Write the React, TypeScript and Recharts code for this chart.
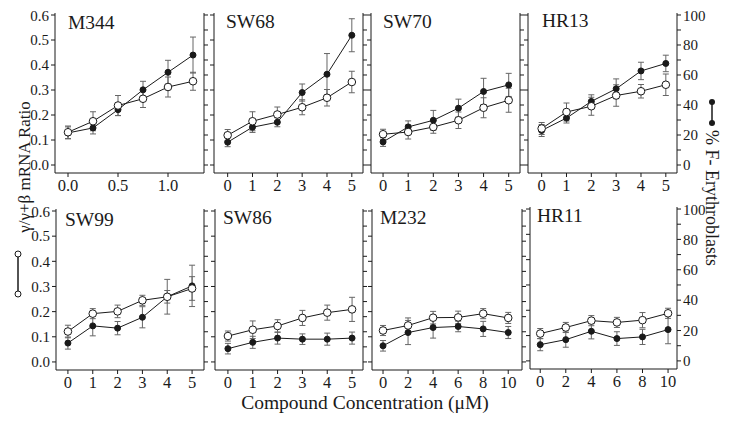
import { ErrorBar, Line, LineChart, XAxis, YAxis } from "recharts"

const FONT = "'Liberation Serif', 'Times New Roman', serif"
const INK = "#1a1a1a"

// concentrations
const xM344 = [0, 0.25, 0.5, 0.75, 1.0, 1.25]
const xFive = [0, 1, 2, 3, 4, 5]
const xTen = [0, 2, 4, 6, 8, 10]

// gamma/(gamma+beta) mRNA ratio (open circles, left axis) and % F erythroblasts (filled, right axis)
const m344Ratio = [0.131, 0.175, 0.238, 0.265, 0.312, 0.335]
const m344RatioErr = [0.025, 0.038, 0.04, 0.035, 0.04, 0.036]
const m344PctF = [21.4, 24.7, 36.9, 50.1, 61.8, 73.3]
const m344PctFErr = [4, 4, 4, 5.7, 8, 12]

const sw68Ratio = [0.119, 0.175, 0.202, 0.231, 0.269, 0.332]
const sw68RatioErr = [0.023, 0.038, 0.03, 0.03, 0.033, 0.043]
const sw68PctF = [15.2, 25.2, 28.5, 48.3, 60.5, 86.5]
const sw68PctFErr = [3, 3.5, 3, 5.7, 13.8, 11]

const sw70Ratio = [0.123, 0.132, 0.152, 0.179, 0.229, 0.259]
const sw70RatioErr = [0.02, 0.028, 0.025, 0.033, 0.04, 0.048]
const sw70PctF = [15.4, 25.4, 29.8, 37.9, 49, 53.4]
const sw70PctFErr = [3, 4, 6.6, 6, 8.8, 7.7]

const hr13Ratio = [0.146, 0.212, 0.235, 0.278, 0.295, 0.321]
const hr13RatioErr = [0.024, 0.036, 0.036, 0.043, 0.027, 0.043]
const hr13PctF = [23, 31.3, 42.4, 50.8, 62.7, 67.7]
const hr13PctFErr = [4, 3.3, 4.4, 6.6, 5.8, 5.5]

const sw99Ratio = [0.121, 0.192, 0.201, 0.245, 0.259, 0.292]
const sw99RatioErr = [0.025, 0.02, 0.025, 0.02, 0.025, 0.047]
const sw99PctF = [12.5, 23.9, 22.4, 29.6, 43.2, 50.4]
const sw99PctFErr = [4, 6.6, 4.4, 7, 11.5, 13.7]

const sw86Ratio = [0.103, 0.128, 0.143, 0.175, 0.196, 0.209]
const sw86RatioErr = [0.02, 0.035, 0.025, 0.03, 0.03, 0.048]
const sw86PctF = [8.8, 13, 15.8, 15.1, 15.1, 15.8]
const sw86PctFErr = [3.5, 4, 4, 3.5, 4, 4]

const m232Ratio = [0.125, 0.145, 0.176, 0.177, 0.192, 0.175]
const m232RatioErr = [0.02, 0.03, 0.025, 0.025, 0.02, 0.022]
const m232PctF = [10.7, 19.5, 22.8, 23.5, 21.9, 19.5]
const m232PctFErr = [3.5, 8, 7, 3.5, 5, 4]

const hr11Ratio = [0.108, 0.132, 0.159, 0.152, 0.161, 0.188]
const hr11RatioErr = [0.02, 0.02, 0.02, 0.02, 0.03, 0.02]
const hr11PctF = [10.7, 14, 19.5, 14.7, 15.8, 20.6]
const hr11PctFErr = [4, 5, 5, 4.5, 5, 9.3]

const ratioTicks = [0, 0.1, 0.2, 0.3, 0.4, 0.5, 0.6]
const pctTicks = [0, 10, 20, 30, 40, 50, 60, 70, 80, 90, 100]

const rows = (xs: number[], r: number[], re: number[], f: number[], fe: number[]) =>
  xs.map((x, i) => ({ x, r: r[i], re: re[i], f: f[i], fe: fe[i] }))

const LW = 40
const RW = 40
const MT = 6
const XH = 30

type PanelProps = {
  name: string
  left: number
  top: number
  width: number
  height: number
  xDomain: [number, number]
  xTicks: number[]
  xFmt: (v: number) => string
  data: { x: number; r: number; re: number; f: number; fe: number }[]
  showLeft?: boolean
  showRight?: boolean
  titleDx: number
  titleY: number
}

const yTickStyle = { fill: INK, fontSize: 15, fontFamily: FONT }
const xTickStyle = { fill: INK, fontSize: 16.5, fontFamily: FONT }

function Panel(p: PanelProps) {
  return (
    <div style={{ position: "absolute", left: p.left - LW, top: p.top - MT }}>
      <LineChart
        width={LW + p.width + RW}
        height={MT + p.height + XH}
        data={p.data}
        margin={{ top: MT, right: 0, bottom: 0, left: 0 }}
      >
        <XAxis
          dataKey="x"
          type="number"
          domain={p.xDomain}
          ticks={p.xTicks}
          tickFormatter={p.xFmt}
          height={XH}
          stroke={INK}
          tickSize={4}
          tick={xTickStyle}
          allowDataOverflow
        />
        <YAxis
          yAxisId="l"
          orientation="left"
          type="number"
          domain={[-0.032, 0.608]}
          ticks={ratioTicks}
          tickFormatter={(v: number) => (p.showLeft ? v.toFixed(1) : "")}
          width={LW}
          stroke={INK}
          tickSize={4}
          tick={yTickStyle}
          allowDataOverflow
        />
        <YAxis
          yAxisId="r"
          orientation="right"
          type="number"
          domain={[-5.333, 101.333]}
          ticks={pctTicks}
          tickFormatter={(v: number) => (p.showRight && v % 20 === 0 ? String(v) : "")}
          width={RW}
          stroke={INK}
          tickSize={4}
          tick={yTickStyle}
          allowDataOverflow
        />
        <Line
          yAxisId="r"
          dataKey="f"
          stroke={INK}
          strokeWidth={1}
          dot={{ r: 3, fill: INK, stroke: INK, strokeWidth: 1 }}
          isAnimationActive={false}
        >
          <ErrorBar dataKey="fe" direction="y" width={3} stroke="#666" strokeWidth={1} />
        </Line>
        <Line
          yAxisId="l"
          dataKey="r"
          stroke={INK}
          strokeWidth={1}
          dot={{ r: 3.8, fill: "#fff", stroke: INK, strokeWidth: 1 }}
          isAnimationActive={false}
        >
          <ErrorBar dataKey="re" direction="y" width={3} stroke="#666" strokeWidth={1} />
        </Line>
      </LineChart>
    </div>
  )
}

const fmtInt = (v: number) => String(v)
const fmtDec = (v: number) => v.toFixed(1)

const panels: PanelProps[] = [
  { name: "M344", left: 55, top: 13, width: 149, height: 160, xDomain: [-0.13, 1.36], xTicks: [0, 0.5, 1.0], xFmt: fmtDec, data: rows(xM344, m344Ratio, m344RatioErr, m344PctF, m344PctFErr), showLeft: true, titleDx: 13, titleY: 29 },
  { name: "SW68", left: 214, top: 13, width: 149, height: 160, xDomain: [-0.55, 5.45], xTicks: xFive, xFmt: fmtInt, data: rows(xFive, sw68Ratio, sw68RatioErr, sw68PctF, sw68PctFErr), titleDx: 12, titleY: 28 },
  { name: "SW70", left: 371, top: 13, width: 149, height: 160, xDomain: [-0.48, 5.45], xTicks: xFive, xFmt: fmtInt, data: rows(xFive, sw70Ratio, sw70RatioErr, sw70PctF, sw70PctFErr), titleDx: 12, titleY: 28 },
  { name: "HR13", left: 528, top: 13, width: 149, height: 160, xDomain: [-0.55, 5.45], xTicks: xFive, xFmt: fmtInt, data: rows(xFive, hr13Ratio, hr13RatioErr, hr13PctF, hr13PctFErr), showRight: true, titleDx: 14, titleY: 27 },
  { name: "SW99", left: 56, top: 209, width: 148, height: 161, xDomain: [-0.48, 5.48], xTicks: xFive, xFmt: fmtInt, data: rows(xFive, sw99Ratio, sw99RatioErr, sw99PctF, sw99PctFErr), showLeft: true, titleDx: 9, titleY: 226 },
  { name: "SW86", left: 215, top: 209, width: 148, height: 161, xDomain: [-0.52, 5.44], xTicks: xFive, xFmt: fmtInt, data: rows(xFive, sw86Ratio, sw86RatioErr, sw86PctF, sw86PctFErr), titleDx: 8, titleY: 224 },
  { name: "M232", left: 372, top: 209, width: 150, height: 161, xDomain: [-0.88, 11.1], xTicks: xTen, xFmt: fmtInt, data: rows(xTen, m232Ratio, m232RatioErr, m232PctF, m232PctFErr), titleDx: 8, titleY: 224 },
  { name: "HR11", left: 530, top: 207, width: 147, height: 162, xDomain: [-0.8, 10.7], xTicks: xTen, xFmt: fmtInt, data: rows(xTen, hr11Ratio, hr11RatioErr, hr11PctF, hr11PctFErr), showRight: true, titleDx: 7, titleY: 222 },
]

export default function App() {
  return (
    <div style={{ position: "absolute", left: 0, top: 0, width: 729, height: 421, background: "#fff", overflow: "hidden" }}>
      {panels.map((p) => (
        <Panel key={p.name} {...p} />
      ))}
      <svg width={729} height={421} style={{ position: "absolute", left: 0, top: 0, pointerEvents: "none" }}>
        <g fontFamily={FONT} fill={INK}>
          {panels.map((p) => (
            <text key={p.name} x={p.left + p.titleDx} y={p.titleY} fontSize={19.5}>
              {p.name}
            </text>
          ))}
          <text x={365} y={409} fontSize={19.5} textAnchor="middle">
            Compound Concentration (μM)
          </text>
          <text transform="translate(30,167) rotate(-90)" fontSize={17} textAnchor="middle">
            γ/γ+β mRNA Ratio
          </text>
          <text transform="translate(706,130) rotate(90)" fontSize={18} textAnchor="start">
            % F-  Erythroblasts
          </text>
        </g>
        <line x1={18} y1={254} x2={18} y2={294} stroke={INK} strokeWidth={1.5} />
        <circle cx={18} cy={254} r={3} fill="#fff" stroke={INK} strokeWidth={1} />
        <circle cx={18} cy={294} r={3} fill="#fff" stroke={INK} strokeWidth={1} />
        <line x1={712} y1={102} x2={712} y2={123} stroke={INK} strokeWidth={1.5} />
        <circle cx={712} cy={102} r={3} fill={INK} />
        <circle cx={712} cy={123} r={3} fill={INK} />
      </svg>
    </div>
  )
}
